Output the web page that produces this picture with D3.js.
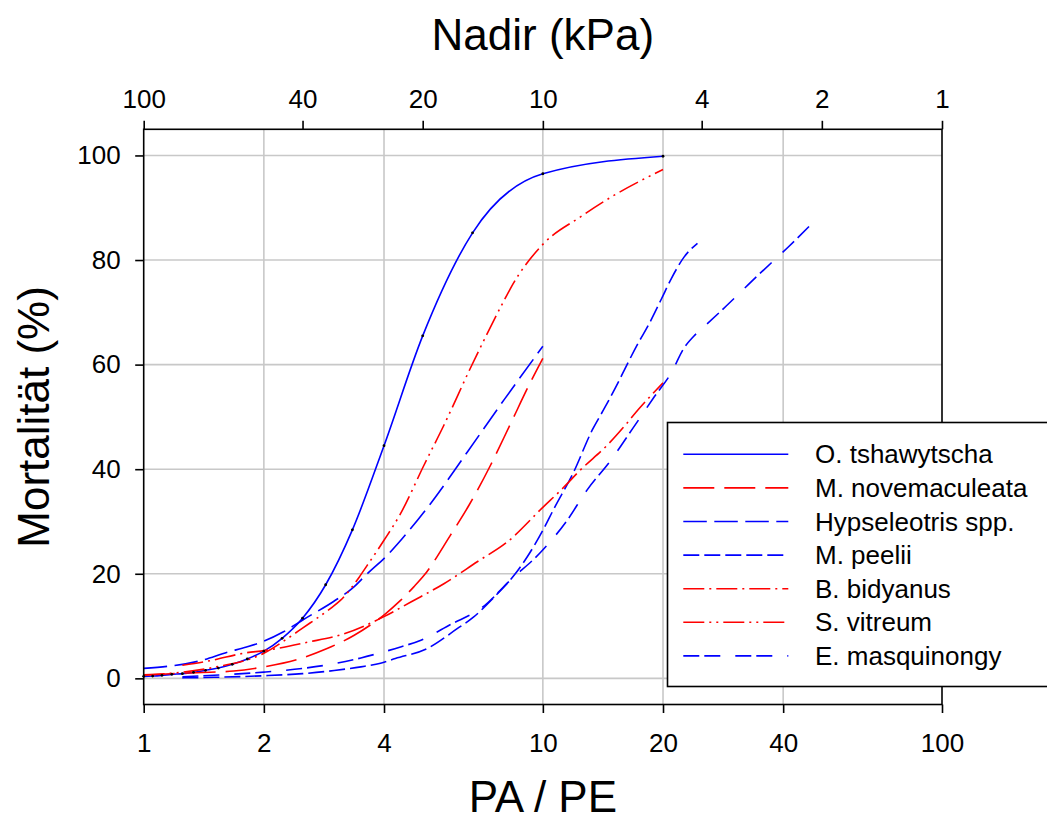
<!DOCTYPE html>
<html>
<head>
<meta charset="utf-8">
<script src="https://cdn.jsdelivr.net/npm/d3@7"></script>
<style>
  body { margin: 0; background: #fff; }
  svg { font-family: "Liberation Sans", Arial, sans-serif; }
</style>
</head>
<body>
<svg id="chart" width="1047" height="820"></svg>
<script>
/** Species names, legend order */
var speciesNames = ['O. tshawytscha', 'M. novemaculeata', 'Hypseleotris spp.', 'M. peelii',
                    'B. bidyanus', 'S. vitreum', 'E. masquinongy'];

/** Mortality curves, [PA/PE, mortality %] */
var oTshawytscha = [[1, 0.38], [1.053, 0.44], [1.111, 0.57], [1.176, 0.77], [1.25, 0.9], [1.333, 1.15],
  [1.429, 1.53], [1.538, 1.97], [1.667, 2.68], [1.818, 3.7], [2, 5.2], [2.222, 7.66], [2.5, 11.5],
  [2.857, 17.9], [3.333, 28.4], [4, 44.5], [5, 65.5], [6.667, 85.2], [10, 96.5], [20, 99.85]];

var mNovemaculeata = [[1, 0.6], [1.25, 1.0], [1.68, 1.4], [2, 2.2], [2.47, 3.8], [2.88, 5.7], [3.36, 8.2],
  [4.04, 12.4], [4.4, 14.9], [4.75, 17.5], [5.04, 19.7], [5.87, 27.4], [6.53, 33.1], [7.4, 40.8],
  [8.3, 48.7], [9.32, 56.7], [10, 61.2]];

var hypseleotris = [[1, 1.9], [1.39, 3.4], [1.62, 5.0], [1.81, 6.0], [2, 7.1], [2.24, 8.9], [2.52, 11.3],
  [2.99, 14.7], [3.33, 17.2], [3.63, 20], [4.07, 23.5], [4.44, 26.7], [5.23, 33.4], [6.47, 43.3],
  [8, 53.3], [10, 63.5]];

var mPeelii = [[1.25, 0.1], [1.5, 0.2], [2, 0.5], [2.5, 0.9], [3, 1.5], [3.5, 2.2], [3.92, 2.9], [4.27, 3.8],
  [5.13, 5.7], [6.1, 9.5], [6.7, 11.7], [7.5, 15.3], [8.47, 19.7], [9.15, 23.3], [10, 28.3], [10.67, 32.5],
  [11.9, 39.2], [13.3, 47.5], [14.3, 51.8], [15.4, 56.4], [16.3, 60.2], [17.3, 64], [18.4, 67.6],
  [19.8, 72.5], [21, 76.5], [22.6, 80.6], [24.4, 83.2]];

var bBidyanus = [[1.25, 2.5], [1.47, 3.4], [1.81, 4.9], [2, 5.3], [2.57, 6.9], [3.17, 8.5], [4, 11.8],
  [4.67, 14.6], [5.65, 18.1], [6.85, 22.3], [8.15, 26.1], [10, 32.7], [11.2, 36.3], [12.4, 39.8],
  [14.5, 44.6], [16.2, 48.7], [17.3, 51.3], [20, 56.5]];

var sVitreum = [[1, 0.7], [1.18, 1.0], [1.52, 2.2], [2, 4.8], [2.26, 7.3], [2.5, 9.6], [2.94, 13.4],
  [3.11, 14.9], [3.47, 19.4], [3.63, 21.6], [4, 26.4], [4.4, 31.5], [5.04, 40.8], [5.65, 48.4],
  [6.6, 59.5], [8, 72.3], [8.3, 74.6], [10, 83], [12.45, 88.3], [15.1, 92.4], [20, 97.3]];

var eMasquinongy = [[1.25, 0.3], [1.5, 0.6], [2, 1.2], [2.5, 1.9], [3, 2.8], [3.5, 3.9], [3.92, 4.9],
  [4.4, 6.0], [4.95, 7.3], [5.87, 10.3], [7.06, 13.6], [8.3, 18.8], [9.9, 24.2], [11.5, 30.2],
  [12.9, 36], [14.8, 41.7], [16.8, 47.8], [19, 53.8], [21, 58.5], [22.5, 63], [24, 65.6], [25.3, 67.2],
  [28.8, 71.2], [34.4, 76.9], [41.2, 82.5], [49, 88.2]];

var seriesData = [oTshawytscha, mNovemaculeata, hypseleotris, mPeelii, bBidyanus, sVitreum, eMasquinongy];

/** Tick values */
var ratioTicks = [1, 2, 4, 10, 20, 40, 100];
var nadirTicks = [100, 40, 20, 10, 4, 2, 1];
var mortalityTicks = [0, 20, 40, 60, 80, 100];
var ratioGrid = [2, 4, 10, 20, 40];

/** Line styles, same order as speciesNames */
var lineColors = ['#0000ff', '#ff0000', '#0000ff', '#0000ff', '#ff0000', '#ff0000', '#0000ff'];
var lineDashes = [null, '31,10', '23.5,7.5', '16,5', '21,5,2,5', '21,5,2,5,2,5', '16,5,16,15'];

var plotLeft = 143.7, plotRight = 942, plotTop = 129.3, plotBottom = 704.5;

var svg = d3.select('#chart');

var x = d3.scaleLog().domain([1, 100]).range([plotLeft, plotRight]);
// nadir = 100 / (PA/PE), so the top axis runs the other way
var xTop = d3.scaleLog().domain([100, 1]).range([plotLeft, plotRight]);
var y = d3.scaleLinear().domain([-5, 105]).range([plotBottom, plotTop]);

// grid
svg.append('g').selectAll('line')
  .data(ratioGrid).enter().append('line')
  .attr('x1', function (d) { return x(d); })
  .attr('x2', function (d) { return x(d); })
  .attr('y1', plotTop).attr('y2', plotBottom)
  .attr('stroke', '#c8c8c8').attr('stroke-width', 1.6);

svg.append('g').selectAll('line')
  .data(mortalityTicks).enter().append('line')
  .attr('y1', function (d) { return y(d); })
  .attr('y2', function (d) { return y(d); })
  .attr('x1', plotLeft).attr('x2', plotRight)
  .attr('stroke', '#c8c8c8').attr('stroke-width', 1.6);

// curves
var line = d3.line()
  .x(function (d) { return x(d[0]); })
  .y(function (d) { return y(d[1]); })
  .curve(d3.curveMonotoneX);

svg.append('g').selectAll('path')
  .data(seriesData).enter().append('path')
  .attr('d', line)
  .attr('fill', 'none')
  .attr('stroke', function (d, i) { return lineColors[i]; })
  .attr('stroke-width', 1.6)
  .attr('stroke-dasharray', function (d, i) { return lineDashes[i]; });

// data points of O. tshawytscha
svg.append('g').selectAll('circle')
  .data(oTshawytscha).enter().append('circle')
  .attr('cx', function (d) { return x(d[0]); })
  .attr('cy', function (d) { return y(d[1]); })
  .attr('r', 1.4)
  .attr('fill', '#000');

// axes
function styleAxis(g) {
  g.select('.domain').remove();
  g.selectAll('.tick line').attr('stroke', '#000').attr('stroke-width', 1.6);
  g.selectAll('.tick text').attr('fill', '#000').style('font-size', '26px')
    .style('font-family', '"Liberation Sans", Arial, sans-serif');
}

svg.append('g')
  .attr('transform', 'translate(0,' + plotBottom + ')')
  .call(d3.axisBottom(x).tickValues(ratioTicks).tickFormat(d3.format('d'))
    .tickSize(8.5).tickSizeOuter(0).tickPadding(21))
  .call(styleAxis);

svg.append('g')
  .attr('transform', 'translate(0,' + plotTop + ')')
  .call(d3.axisTop(xTop).tickValues(nadirTicks).tickFormat(d3.format('d'))
    .tickSize(8.5).tickSizeOuter(0).tickPadding(12.5))
  .call(styleAxis);

svg.append('g')
  .attr('transform', 'translate(' + plotLeft + ',0)')
  .call(d3.axisLeft(y).tickValues(mortalityTicks).tickFormat(d3.format('d'))
    .tickSize(8.5).tickSizeOuter(0).tickPadding(14.5))
  .call(styleAxis);

// frame
svg.append('rect')
  .attr('x', plotLeft).attr('y', plotTop)
  .attr('width', plotRight - plotLeft).attr('height', plotBottom - plotTop)
  .attr('fill', 'none').attr('stroke', '#000').attr('stroke-width', 1.6);

// titles
svg.append('text').text('Nadir (kPa)')
  .attr('x', (plotLeft + plotRight) / 2).attr('y', 50)
  .attr('text-anchor', 'middle').style('font-size', '44px');

svg.append('text').text('PA / PE')
  .attr('x', (plotLeft + plotRight) / 2).attr('y', 812)
  .attr('text-anchor', 'middle').style('font-size', '44px');

svg.append('text').text('Mortalität (%)')
  .attr('transform', 'translate(49,' + ((plotTop + plotBottom) / 2) + ') rotate(-90)')
  .attr('text-anchor', 'middle').style('font-size', '44px');

// legend
var legend = svg.append('g');
legend.append('rect')
  .attr('x', 667.5).attr('y', 422.5).attr('width', 420).attr('height', 264)
  .attr('fill', '#fff').attr('stroke', '#000').attr('stroke-width', 1.6);

var rows = legend.selectAll('g.row')
  .data(speciesNames).enter().append('g')
  .attr('class', 'row')
  .attr('transform', function (d, i) { return 'translate(0,' + (454.3 + i * 33.6) + ')'; });

rows.append('line')
  .attr('x1', 683.3).attr('x2', 788.3).attr('y1', 0).attr('y2', 0)
  .attr('stroke', function (d, i) { return lineColors[i]; })
  .attr('stroke-width', 1.6)
  .attr('stroke-dasharray', function (d, i) { return lineDashes[i]; });

rows.append('text').text(function (d) { return d; })
  .attr('x', 815).attr('dy', '0.35em')
  .style('font-size', '26px');
</script>
</body>
</html>
